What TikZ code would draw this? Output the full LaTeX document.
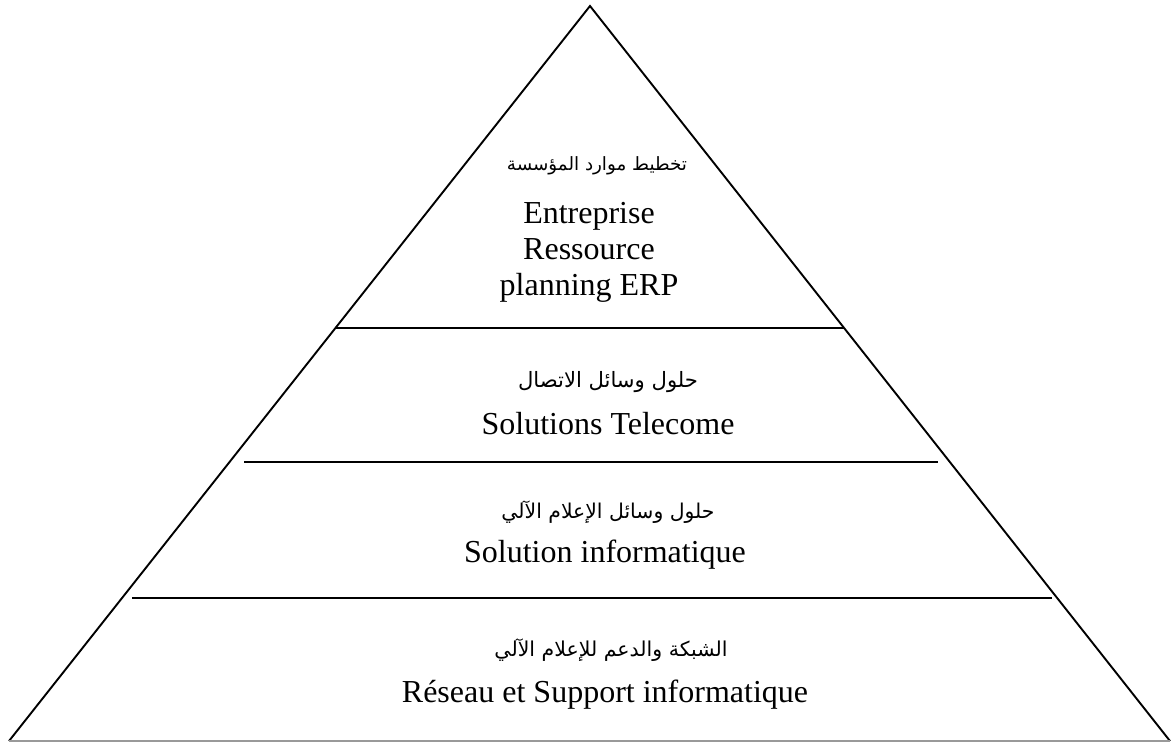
\documentclass[tikz,border=0pt]{standalone}
\usepackage{fontspec}
\setmainfont{Liberation Serif}
\newfontfamily\arabicfont[Script=Arabic]{DejaVu Sans}
\TeXXeTstate=1
\begin{document}
\begin{tikzpicture}[x=1pt,y=-1pt,
  edge/.style={line width=1.9pt,black},
  baseedge/.style={line width=1.9pt,black!40},
  latin/.style={font=\fontsize{32}{36}\selectfont,inner sep=0pt,anchor=base},
  arab/.style={inner sep=0pt,anchor=center}]
  \useasboundingbox[fill=white] (0,0) rectangle (1171,743);

  % pyramid outline
  \coordinate (apex) at (590,6);
  \coordinate (bl) at (9,741);
  \coordinate (br) at (1170,741);
  \draw[edge] (bl) -- (apex) -- (br);
  \draw[baseedge] (bl) -- (br);

  % tier separators
  \coordinate (s1l) at (336,328);  \coordinate (s1r) at (844,328);
  \coordinate (s2l) at (244,462);  \coordinate (s2r) at (938,462);
  \coordinate (s3l) at (132,598);  \coordinate (s3r) at (1052,598);
  \draw[edge] (s1l) -- (s1r);
  \draw[edge] (s2l) -- (s2r);
  \draw[edge] (s3l) -- (s3r);

  % tier 1: ERP
  \node[arab] (erpA) at (597,166) {\resizebox{180pt}{!}{\arabicfont\beginR تخطيط موارد المؤسسة\endR}};
  \node[latin] (erp1) at (589,224) {Entreprise};
  \node[latin] (erp2) at (589,260) {Ressource};
  \node[latin] (erp3) at (589,296) {planning ERP};

  % tier 2: telecom
  \node[arab] (telA) at (608,382) {\resizebox{180pt}{!}{\arabicfont\beginR حلول وسائل الاتصال\endR}};
  \node[latin] (tel) at (608,435) {Solutions Telecome};

  % tier 3: IT solutions
  \node[arab] (infA) at (608,512) {\resizebox{213pt}{!}{\arabicfont\beginR حلول وسائل الإعلام الآلي\endR}};
  \node[latin] (inf) at (605,562) {Solution informatique};

  % tier 4: network and support
  \node[arab] (netA) at (611,650) {\resizebox{233pt}{!}{\arabicfont\beginR الشبكة والدعم للإعلام الآلي\endR}};
  \node[latin] (net) at (605,702) {Réseau et Support informatique};
\end{tikzpicture}
\end{document}
